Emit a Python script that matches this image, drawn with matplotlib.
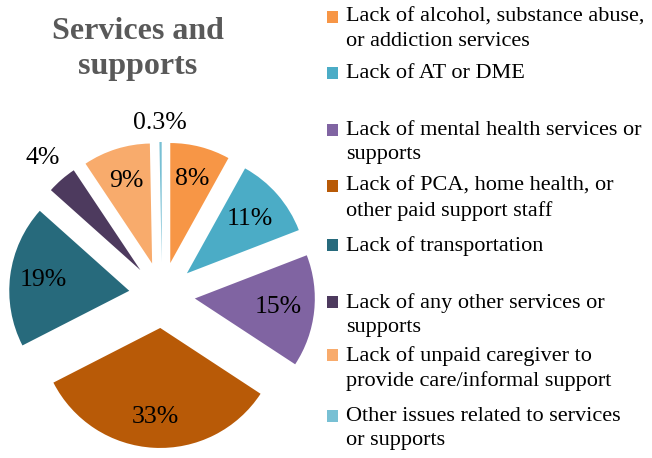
import numpy as np
import matplotlib
matplotlib.use("Agg")
import matplotlib.pyplot as plt
from matplotlib.patches import Rectangle

categories = [
    "Lack of alcohol, substance abuse,\nor addiction services",
    "Lack of AT or DME",
    "Lack of mental health services or\nsupports",
    "Lack of PCA, home health, or\nother paid support staff",
    "Lack of transportation",
    "Lack of any other services or\nsupports",
    "Lack of unpaid caregiver to\nprovide care/informal support",
    "Other issues related to services\nor supports",
]
values = [8, 11, 15, 33, 19, 4, 9, 0.3]
pct_labels = ["8%", "11%", "15%", "33%", "19%", "4%", "9%", "0.3%"]
colors = ["#F79646", "#4BACC6", "#8064A2", "#B85A07",
          "#276A7C", "#4D3A5E", "#F8AB6C", "#78C0D4"]

W, H = 652, 458
fig = plt.figure(figsize=(W / 100, H / 100), dpi=100)
ax = fig.add_axes([0, 0, 1, 1])

serif = ["Liberation Serif", "DejaVu Serif"]
cx, cy, R = 162, H - 295, 120
explode_frac = 0.275
wedges, _ = ax.pie(values, colors=colors, startangle=90, counterclock=False,
                   radius=R, center=(cx, cy),
                   explode=[explode_frac * R] * len(values),
                   wedgeprops=dict(linewidth=0))
ax.set_xlim(0, W)
ax.set_ylim(0, H)
ax.set_aspect("equal")
ax.axis("off")

# percentage labels
label_r = [0.72, 0.69, 0.70, 0.74, 0.72, 1.24, 0.72, 1.16]
total = sum(values)
cum = np.cumsum([0] + values)
for i, (w, lab) in enumerate(zip(wedges, pct_labels)):
    mid = 90 - 360 * (cum[i] + values[i] / 2) / total
    th = np.deg2rad(mid)
    ecx = cx + explode_frac * R * np.cos(th)
    ecy = cy + explode_frac * R * np.sin(th)
    x = ecx + label_r[i] * R * np.cos(th)
    y = ecy + label_r[i] * R * np.sin(th)
    ax.text(x, y, lab, ha="center", va="center", fontsize=18.5,
            family=serif, color="black")

# title
ax.text(138, H - 49, "Services and\nsupports", ha="center", va="center",
        fontsize=23, fontweight="bold", color="#595959", family=serif,
        linespacing=1.25)

# legend
slot_top = [17, 73, 130, 186, 245, 302, 355, 416]
for lab, col, yt in zip(categories, colors, slot_top):
    ax.add_patch(Rectangle((327, H - yt - 6), 11, 12, color=col, lw=0))
    ax.text(346, H - yt + 9, lab, ha="left", va="top", fontsize=16,
            family=serif, color="black", linespacing=1.36)

fig.savefig("out.png", dpi=100)
